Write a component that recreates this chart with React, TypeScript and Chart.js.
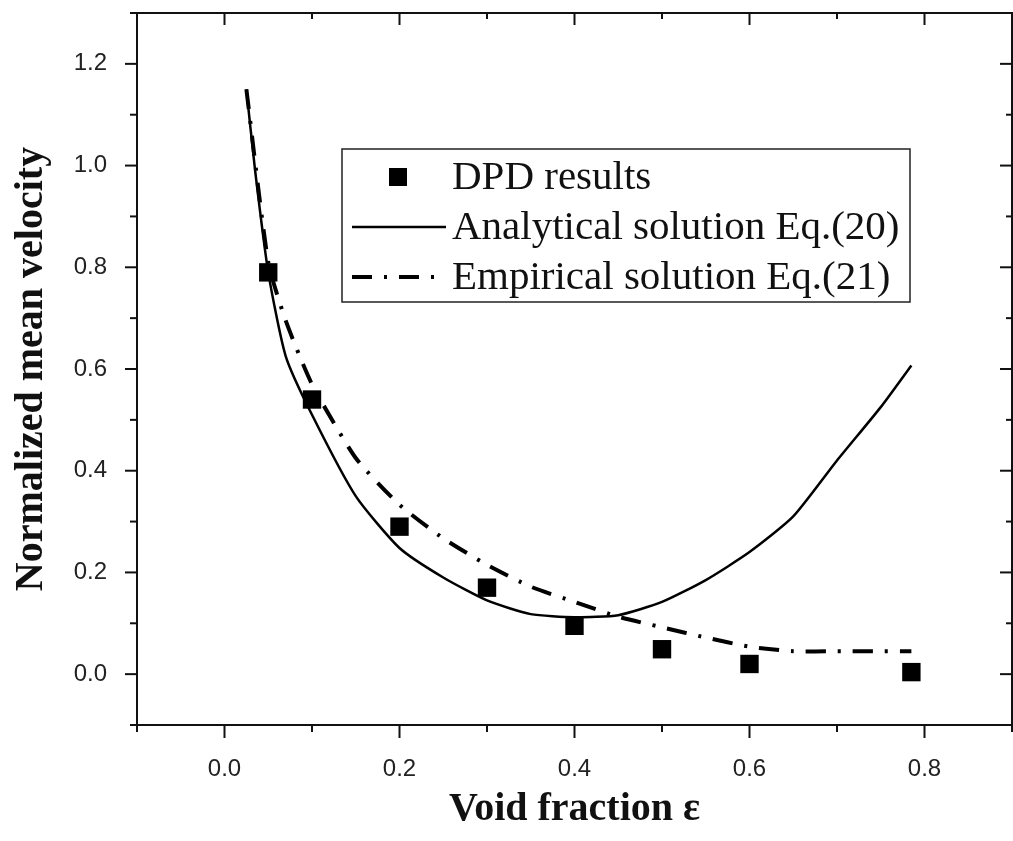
import React, { useEffect, useRef } from 'react';
import { Chart, registerables } from 'chart.js';

Chart.register(...registerables);

// ---- data ----
const dpdX = [0.05, 0.1, 0.2, 0.3, 0.4, 0.5, 0.6, 0.785];
const dpdY = [0.79, 0.54, 0.29, 0.17, 0.095, 0.049, 0.02, 0.004];

const analyticalX = [0.025, 0.035, 0.05, 0.07, 0.1, 0.15, 0.2, 0.25, 0.3, 0.35, 0.4, 0.45, 0.5, 0.55, 0.6, 0.65, 0.7, 0.75, 0.785];
const analyticalY = [1.15, 0.99, 0.79, 0.625, 0.51, 0.35, 0.248, 0.19, 0.145, 0.118, 0.112, 0.116, 0.142, 0.185, 0.24, 0.31, 0.42, 0.525, 0.607];

const empiricalX = [0.025, 0.05, 0.07, 0.1, 0.15, 0.2, 0.25, 0.3, 0.35, 0.4, 0.45, 0.5, 0.55, 0.6, 0.65, 0.7, 0.75, 0.785];
const empiricalY = [1.15, 0.81, 0.695, 0.57, 0.425, 0.333, 0.267, 0.215, 0.172, 0.142, 0.113, 0.092, 0.072, 0.054, 0.045, 0.045, 0.045, 0.045];

const seriesLabels = ['DPD results', 'Analytical solution Eq.(20)', 'Empirical solution Eq.(21)'];

const xMajorTicks = [0, 0.2, 0.4, 0.6, 0.8];
const xMinorTicks = [-0.1, 0.1, 0.3, 0.5, 0.7, 0.9];
const yMajorTicks = [0, 0.2, 0.4, 0.6, 0.8, 1.0, 1.2];
const yMinorTicks = [-0.1, 0.1, 0.3, 0.5, 0.7, 0.9, 1.1, 1.3];

const xTitle = 'Void fraction ε';
const yTitle = 'Normalized mean velocity';

const zip = (xs: number[], ys: number[]) => xs.map((x, i) => ({ x, y: ys[i] }));

const INK = '#111111';
const CANVAS_W = 1025;

const framePlugin = {
  id: 'frameTicks',
  afterDatasetsDraw(chart: any) {
    const { ctx, chartArea } = chart;
    const { left, right, top, bottom } = chartArea;
    const xs = chart.scales.x;
    const ys = chart.scales.y;
    ctx.save();
    ctx.strokeStyle = INK;
    ctx.lineWidth = 2;
    ctx.strokeRect(left, top, right - left, bottom - top);
    const seg = (x1: number, y1: number, x2: number, y2: number) => {
      ctx.beginPath();
      ctx.moveTo(x1, y1);
      ctx.lineTo(x2, y2);
      ctx.stroke();
    };
    xMajorTicks.forEach((v) => {
      const p = xs.getPixelForValue(v);
      seg(p, bottom, p, bottom + 13);
      seg(p, top, p, top + 12);
    });
    xMinorTicks.forEach((v) => {
      const p = xs.getPixelForValue(v);
      seg(p, bottom, p, bottom + 7);
      seg(p, top, p, top + 6);
    });
    yMajorTicks.forEach((v) => {
      const p = ys.getPixelForValue(v);
      seg(left - 12, p, left, p);
      seg(right - 12, p, right, p);
    });
    yMinorTicks.forEach((v) => {
      const p = ys.getPixelForValue(v);
      seg(left - 7, p, left, p);
      seg(right - 6, p, right, p);
    });
    ctx.restore();
  },
};

const legendPlugin = {
  id: 'boxLegend',
  afterDraw(chart: any) {
    const { ctx } = chart;
    const L = 342, T = 149, R = 910, B = 302;
    const rows = [177, 227, 277];
    ctx.save();
    ctx.strokeStyle = '#222';
    ctx.lineWidth = 1.5;
    ctx.strokeRect(L, T, R - L, B - T);
    chart.data.datasets.forEach((ds: any, i: number) => {
      const y = rows[i];
      if (ds.showLine) {
        ctx.save();
        ctx.strokeStyle = ds.borderColor;
        ctx.lineWidth = ds.borderWidth;
        ctx.setLineDash(ds.borderDash || []);
        ctx.beginPath();
        ctx.moveTo(352, y);
        ctx.lineTo(446, y);
        ctx.stroke();
        ctx.restore();
      } else {
        ctx.fillStyle = ds.backgroundColor;
        ctx.fillRect(389, y - 9, 18, 18);
      }
      ctx.fillStyle = INK;
      ctx.font = '41px "Liberation Serif", "Times New Roman", serif';
      ctx.textBaseline = 'middle';
      ctx.textAlign = 'left';
      ctx.fillText(ds.label, 452, y + 1);
    });
    ctx.restore();
  },
};

export default function App() {
  const ref = useRef<HTMLCanvasElement | null>(null);
  useEffect(() => {
    if (!ref.current) return;
    const tickFont = { family: '"Liberation Sans", Arial, sans-serif', size: 24 };
    const titleFont = { family: '"Liberation Serif", "Times New Roman", serif', size: 40, weight: 'bold' as const };
    const chart = new Chart(ref.current, {
      type: 'scatter',
      data: {
        datasets: [
          {
            label: seriesLabels[0],
            data: zip(dpdX, dpdY),
            showLine: false,
            pointStyle: 'rect',
            pointRadius: 13,
            pointBackgroundColor: '#000',
            pointBorderWidth: 0,
            backgroundColor: '#000',
            borderColor: '#000',
            order: 0,
          },
          {
            label: seriesLabels[1],
            data: zip(analyticalX, analyticalY),
            showLine: true,
            pointRadius: 0,
            borderColor: '#000',
            borderWidth: 2.5,
            tension: 0.2,
            order: 1,
          },
          {
            label: seriesLabels[2],
            data: zip(empiricalX, empiricalY),
            showLine: true,
            pointRadius: 0,
            borderColor: '#000',
            borderWidth: 4,
            borderDash: [20, 12, 3, 12],
            tension: 0.2,
            order: 2,
          },
        ] as any,
      },
      options: {
        animation: false,
        responsive: false,
        layout: { padding: { top: 13, right: 1, left: 0, bottom: 0 } },
        plugins: { legend: { display: false }, tooltip: { enabled: false } },
        scales: {
          x: {
            type: 'linear',
            min: -0.1,
            max: 0.9,
            grid: { display: false, drawTicks: false },
            border: { display: false },
            afterBuildTicks: (s: any) => {
              s.ticks = xMajorTicks.map((v) => ({ value: v }));
            },
            afterFit: (s: any) => {
              s.height = 116;
              s.paddingLeft = 0;
              s.paddingRight = 0;
              s.paddingTop = 0;
              s.paddingBottom = 0;
            },
            ticks: {
              padding: 30,
              color: '#222',
              font: tickFont,
              maxRotation: 0,
              callback: (v: any) => Number(v).toFixed(1),
            },
            title: { display: true, text: xTitle, color: INK, font: titleFont, padding: { top: 0, bottom: 7 } },
          },
          y: {
            type: 'linear',
            min: -0.1,
            max: 1.3,
            grid: { display: false, drawTicks: false },
            border: { display: false },
            afterBuildTicks: (s: any) => {
              s.ticks = yMajorTicks.map((v) => ({ value: v }));
            },
            afterFit: (s: any) => {
              s.width = 137;
              s.paddingLeft = 0;
              s.paddingRight = 0;
              s.paddingTop = 0;
              s.paddingBottom = 0;
            },
            ticks: {
              padding: 30,
              color: '#222',
              font: tickFont,
              callback: (v: any) => Number(v).toFixed(1),
            },
            title: { display: true, text: yTitle, color: INK, font: titleFont, padding: { top: 8, bottom: 0 } },
          },
        },
      } as any,
      plugins: [framePlugin, legendPlugin],
    });
    return () => chart.destroy();
  }, []);
  return (
    <div style={{ position: 'absolute', left: 0, top: 0, width: 1013, height: 841, background: '#fff', overflow: 'hidden' }}>
      <canvas ref={ref} width={CANVAS_W} height={841} style={{ width: CANVAS_W, height: 841, display: 'block' }} />
    </div>
  );
}
